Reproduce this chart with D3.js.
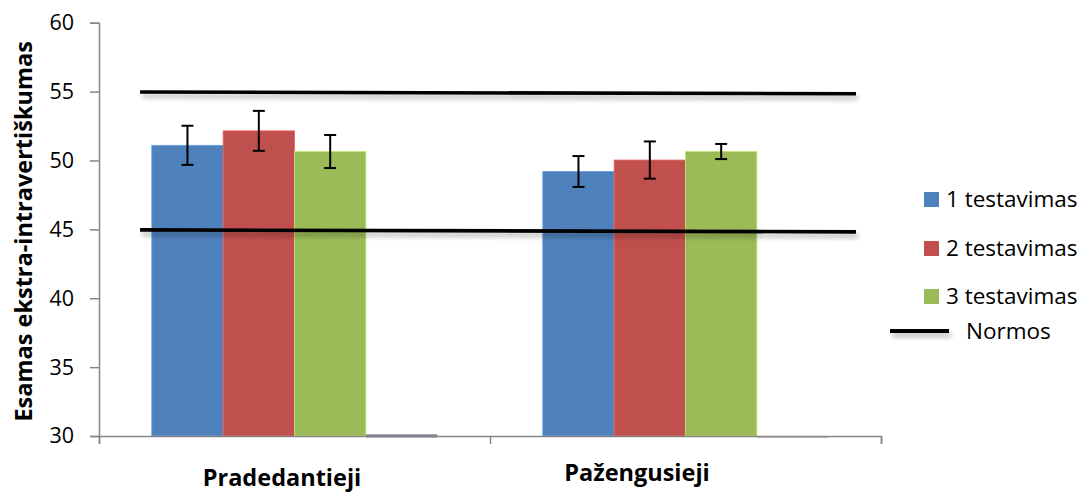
<!DOCTYPE html>
<html>
<head>
<meta charset="utf-8">
<script src="https://cdn.jsdelivr.net/npm/d3@7"></script>
<style>
  html, body { margin: 0; padding: 0; background: #fff; }
  svg { display: block; font-family: "Open Sans", sans-serif; }
</style>
</head>
<body>
<svg id="chart" width="1088" height="492"></svg>
<script>
// ---- data ----
const categories = ["Pradedantieji", "Pažengusieji"];
const seriesNames = ["1 testavimas", "2 testavimas", "3 testavimas"];
const seriesColors = ["#4F81BD", "#C0504D", "#9BBB59"];
const series1 = [51.1, 49.2];
const series2 = [52.15, 50.03];
const series3 = [50.65, 50.65];
const err1 = [1.42, 1.12];
const err2 = [1.45, 1.35];
const err3 = [1.2, 0.55];
const normosBar = [30.12, 30.0];           // tiny 4th bar series
const normTop = [[0.105, 54.97], [1.936, 54.84]];
const normBottom = [[0.105, 44.96], [1.936, 44.82]];
const yTicks = [30, 35, 40, 45, 50, 55, 60];
const yTitle = "Esamas ekstra-intravertiškumas";
const legendNormos = "Normos";

// ---- layout ----
const svg = d3.select("#chart");
const x0 = 99, x1 = 881, yTop = 22.7, yBot = 436;

const y = d3.scaleLinear().domain([30, 60]).range([yBot, yTop]);
const xCat = d3.scaleBand().domain(categories).range([x0, x1]).paddingInner(0.27).paddingOuter(0.135);
const xSer = d3.scaleBand().domain([0, 1, 2, 3]).range([0, xCat.bandwidth()]);
const xLin = d3.scaleLinear().domain([0, 2]).range([x0, x1]);

const defs = svg.append("defs");
const f = defs.append("filter").attr("id", "shadow").attr("filterUnits", "userSpaceOnUse")
  .attr("x", 0).attr("y", 0).attr("width", 1088).attr("height", 492);
f.append("feGaussianBlur").attr("in", "SourceAlpha").attr("stdDeviation", 2.5);
f.append("feOffset").attr("dx", 2).attr("dy", 4).attr("result", "ob");
f.append("feComponentTransfer").append("feFuncA").attr("type", "linear").attr("slope", 0.3);
const m = f.append("feMerge");
m.append("feMergeNode");
m.append("feMergeNode").attr("in", "SourceGraphic");

// bars
const seriesVals = [series1, series2, series3];
const seriesErr = [err1, err2, err3];
const bars = [];
categories.forEach((c, ci) => {
  seriesVals.forEach((vals, si) => {
    bars.push({ c, si, v: vals[ci], e: seriesErr[si][ci] });
  });
});

svg.append("g").selectAll("rect").data(bars).join("rect")
  .attr("x", d => xCat(d.c) + xSer(d.si))
  .attr("y", d => y(d.v))
  .attr("width", xSer.bandwidth())
  .attr("height", d => y(30) - y(d.v))
  .attr("fill", d => seriesColors[d.si])
  .attr("stroke", d => d3.color(seriesColors[d.si]).brighter(0.6))
  .attr("stroke-width", 0.8);

// tiny normos bar
svg.append("g").selectAll("rect").data(categories.map((c, i) => ({ c, v: normosBar[i] }))).join("rect")
  .attr("x", d => xCat(d.c) + xSer(3))
  .attr("y", d => y(d.v))
  .attr("width", xSer.bandwidth())
  .attr("height", d => Math.max(0, y(30) - y(d.v)) + 1.5)
  .attr("fill", "#857a99");

// axes
const yAxis = d3.axisLeft(y).tickValues(yTicks).tickSize(9).tickPadding(16);
const gy = svg.append("g").attr("transform", `translate(${x0},0)`).call(yAxis);
gy.select(".domain").attr("stroke", "#868686").attr("stroke-width", 1.5);
gy.selectAll(".tick line").attr("stroke", "#868686").attr("stroke-width", 1.5);
gy.selectAll(".tick text").attr("font-size", 21.5).attr("fill", "#000").attr("font-family", "'Open Sans', sans-serif");

const xAxis = d3.axisBottom(xLin).tickValues([0, 1, 2]).tickSize(8).tickFormat("");
const gx = svg.append("g").attr("transform", `translate(0,${yBot})`).call(xAxis);
gx.select(".domain").attr("stroke", "#868686").attr("stroke-width", 1.5);
gx.selectAll(".tick line").attr("stroke", "#868686").attr("stroke-width", 1.5);

// normos lines
const line = d3.line().x(d => xLin(d[0])).y(d => y(d[1]));
[normTop, normBottom].forEach(pts => {
  svg.append("path").datum(pts).attr("d", line)
    .attr("stroke", "#000").attr("stroke-width", 3.6).attr("fill", "none")
    .attr("filter", "url(#shadow)");
});

// error bars
const gErr = svg.append("g").attr("stroke", "#000").attr("stroke-width", 2);
bars.forEach(d => {
  const cx = xCat(d.c) + xSer(d.si) + xSer.bandwidth() / 2;
  gErr.append("line").attr("x1", cx).attr("x2", cx).attr("y1", y(d.v + d.e)).attr("y2", y(d.v - d.e));
  gErr.append("line").attr("x1", cx - 6).attr("x2", cx + 6).attr("y1", y(d.v + d.e)).attr("y2", y(d.v + d.e));
  gErr.append("line").attr("x1", cx - 6).attr("x2", cx + 6).attr("y1", y(d.v - d.e)).attr("y2", y(d.v - d.e));
});

// category labels (manually placed like text boxes)
const catPos = [[282, 486], [637, 481]];
svg.append("g").selectAll("text").data(categories).join("text")
  .attr("x", (d, i) => catPos[i][0]).attr("y", (d, i) => catPos[i][1])
  .attr("text-anchor", "middle").attr("font-weight", "bold").attr("font-size", 23.5)
  .text(d => d);

// y title
svg.append("text")
  .attr("transform", `translate(32,${(yTop + yBot) / 2 + 2}) rotate(-90)`)
  .attr("text-anchor", "middle").attr("font-weight", "bold").attr("font-size", 23.5)
  .text(yTitle);

// legend
const legY = [199.5, 248.5, 296.5];
const lg = svg.append("g");
seriesNames.forEach((n, i) => {
  lg.append("rect").attr("x", 924).attr("y", legY[i] - 7.5).attr("width", 15).attr("height", 15).attr("fill", seriesColors[i]);
  lg.append("text").attr("x", 946).attr("y", legY[i] + 7.5).attr("font-size", 22.5).text(n);
});
lg.append("line").attr("x1", 890).attr("x2", 949).attr("y1", 331).attr("y2", 331)
  .attr("stroke", "#000").attr("stroke-width", 4).attr("filter", "url(#shadow)");
lg.append("text").attr("x", 966).attr("y", 338.5).attr("font-size", 22.5).text(legendNormos);
</script>
</body>
</html>
